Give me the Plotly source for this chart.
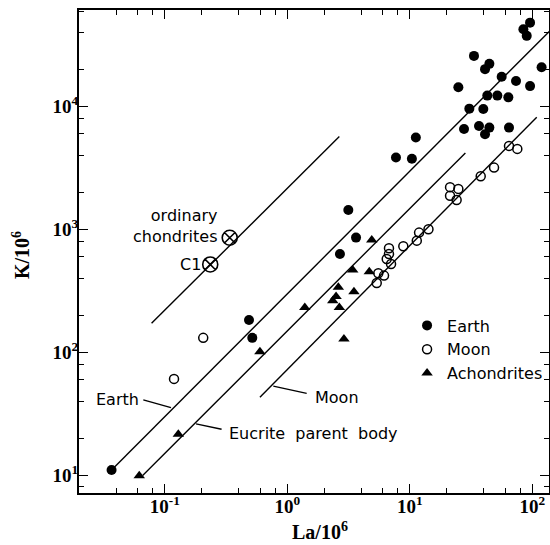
import numpy as np
import plotly.graph_objects as go

# ---- data (La/1e6, K/1e6) ----
earth_la = [95.8, 84.5, 90, 33.4, 44.6, 41.1, 119, 56.2, 24.9, 73.6, 95.8, 42.9, 51.8, 63.7,
            30.6, 39.8, 27.7, 36.7, 44.6, 41.1, 64.5, 11.2, 7.71, 10.4, 3.15, 3.64, 2.69,
            0.487, 0.518, 0.0368]
earth_k = [48300, 42700, 37700, 25900, 22300, 20200, 20900, 17500, 14400, 16200, 14700, 12300,
           12300, 11900, 9630, 9580, 6580, 6960, 6750, 5960, 6750, 5600, 3850, 3770, 1440, 858,
           631, 183, 131, 11]

moon_la = [64.5, 75.4, 48.7, 37.9, 21.3, 24.9, 21.3, 24.1, 14.2, 11.9, 11.4, 8.85, 6.76, 6.76,
           6.48, 7.03, 5.53, 6.16, 5.37, 0.206, 0.119]
moon_k = [4790, 4530, 3190, 2710, 2210, 2140, 1880, 1740, 1004, 943, 811, 730, 703, 632, 575,
          524, 440, 421, 367, 131, 60.7]

achon_la = [4.89, 3.42, 4.67, 2.61, 3.50, 2.50, 2.35, 2.66, 1.39, 2.90, 0.598, 0.129, 0.0619]
achon_k = [820, 468, 453, 338, 311, 284, 263, 232, 231, 128, 101, 21.5, 9.87]

chond_names = ["ordinary chondrites", "C1"]
chond_la = [0.339, 0.235]
chond_k = [856, 519]

# reference lines (end points)
line_chond_la = [0.078, 2.66]
line_chond_k = [172, 5710]
line_earth_la = [0.0368, 140]
line_earth_k = [11, 41700]
line_eucrite_la = [0.066, 28.4]
line_eucrite_k = [9.9, 4200]
line_moon_la = [0.598, 108.6]
line_moon_k = [43.1, 8200]

# label leaders
lead_earth_la = [0.0668, 0.1124]
lead_earth_k = [40.9, 35.4]
lead_euc_la = [0.180, 0.291]
lead_euc_k = [26.1, 23.6]
lead_moon_la = [0.769, 1.44]
lead_moon_k = [53.0, 46.3]

tick_vals = [0.1, 1, 10, 100]
tick_text = ["10<sup>-1</sup>", "10<sup>0</sup>", "10<sup>1</sup>", "10<sup>2</sup>"]
ytick_vals = [10, 100, 1000, 10000]
ytick_text = ["10<sup>1</sup>", "10<sup>2</sup>", "10<sup>3</sup>", "10<sup>4</sup>"]

def minors(lo, hi):
    out = []
    for e in range(lo, hi + 1):
        for m in (2, 4, 6, 8):
            out.append(m * 10.0 ** e)
    return out

fig = go.Figure()

line_style = dict(color="black", width=1.4)
for lx, ly in [(line_chond_la, line_chond_k), (line_earth_la, line_earth_k),
               (line_eucrite_la, line_eucrite_k), (line_moon_la, line_moon_k),
               (lead_earth_la, lead_earth_k), (lead_euc_la, lead_euc_k),
               (lead_moon_la, lead_moon_k)]:
    fig.add_trace(go.Scatter(x=lx, y=ly, mode="lines", line=line_style,
                             showlegend=False, hoverinfo="skip"))

fig.add_trace(go.Scatter(x=earth_la, y=earth_k, mode="markers", name="Earth",
                         marker=dict(symbol="circle", size=10, color="black")))
fig.add_trace(go.Scatter(x=moon_la, y=moon_k, mode="markers", name="Moon",
                         marker=dict(symbol="circle-open", size=9, color="black",
                                     line=dict(width=1.5, color="black"))))
fig.add_trace(go.Scatter(x=achon_la, y=achon_k, mode="markers", name="Achondrites",
                         marker=dict(symbol="triangle-up", size=10, color="black")))
fig.add_trace(go.Scatter(x=chond_la, y=chond_k, mode="markers", text=chond_names,
                         showlegend=False,
                         marker=dict(symbol="circle-x-open", size=15, color="black",
                                     line=dict(width=1.6, color="black"))))

lab_font = dict(family="DejaVu Sans", size=16, color="black")
L = np.log10
annos = [
    dict(x=L(0.064), y=L(40.9), text="Earth", xanchor="right", yanchor="middle"),
    dict(x=L(0.320), y=L(21.9), text="Eucrite  parent  body", xanchor="left", yanchor="middle"),
    dict(x=L(1.61), y=L(42.6), text="Moon", xanchor="left", yanchor="middle"),
    dict(x=L(0.283), y=L(1067), text="ordinary<br>chondrites", xanchor="right",
         yanchor="middle", align="right"),
    dict(x=L(0.206), y=L(514), text="C1", xanchor="right", yanchor="middle"),
]
for a in annos:
    a.update(xref="x", yref="y", showarrow=False, font=lab_font)

title_font = dict(family="Liberation Serif", size=20, color="black", weight="bold")
# axis titles (paper coords: plot area is 79..549 x 10..493 px)
annos.append(dict(xref="paper", yref="paper", x=(320 - 79) / 470, y=-(531 - 493) / 483,
                  text="La/10<sup>6</sup>", showarrow=False, font=title_font,
                  xanchor="center", yanchor="middle"))
annos.append(dict(xref="paper", yref="paper", x=-(79 - 21) / 470, y=(493 - 255) / 483,
                  text="K/10<sup>6</sup>", showarrow=False, font=title_font, textangle=-90,
                  xanchor="center", yanchor="middle"))

axis_common = dict(
    type="log", showgrid=False, zeroline=False, showline=True, linecolor="black",
    linewidth=2, mirror="ticks", ticks="inside", ticklen=9, tickwidth=1.3,
    tickcolor="black", automargin=False,
    tickfont=dict(family="Liberation Serif", size=19, color="black", weight="bold"),
)

fig.update_layout(
    width=550, height=545,
    margin=dict(l=79, r=1, t=10, b=52),
    plot_bgcolor="white", paper_bgcolor="white",
    xaxis=dict(**axis_common, range=[-1.700, 2.136], tickvals=tick_vals, ticktext=tick_text,
               ticklabelstandoff=-5,
               minor=dict(tickvals=minors(-2, 2), ticks="inside", ticklen=5, tickwidth=1.2,
                          tickcolor="black")),
    yaxis=dict(**axis_common, range=[0.854, 4.787], tickvals=ytick_vals, ticktext=ytick_text,
               ticklabelstandoff=-5,
               minor=dict(tickvals=minors(0, 4), ticks="inside", ticklen=5, tickwidth=1.2,
                          tickcolor="black")),
    legend=dict(x=0.698, y=0.382, xanchor="left", yanchor="top", bgcolor="rgba(0,0,0,0)",
                font=dict(family="DejaVu Sans", size=16, color="black"),
                itemwidth=30, tracegroupgap=0),
    annotations=annos,
    showlegend=True,
)

fig.write_html("out.html", config={"displayModeBar": False},
               post_script="document.body.style.margin='0';document.body.style.overflow='hidden';")
